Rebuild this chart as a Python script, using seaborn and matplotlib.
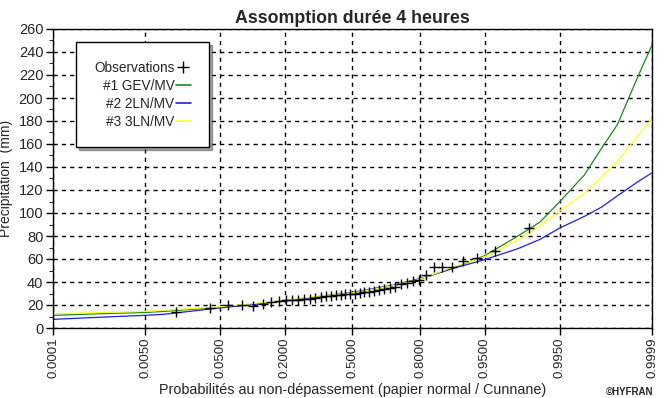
import numpy as np
import pandas as pd
import matplotlib
matplotlib.use("Agg")
import matplotlib.pyplot as plt
import seaborn as sns
from statistics import NormalDist
from matplotlib.ticker import FixedLocator, MultipleLocator
from matplotlib.lines import Line2D

# ---- data ----
curve_p = [0.0001, 0.001, 0.005, 0.01, 0.05, 0.1, 0.2, 0.3, 0.5, 0.7, 0.8,
           0.9, 0.95, 0.98, 0.99, 0.995, 0.998, 0.999, 0.9995, 0.9998, 0.9999]
gev = [11, 12.5, 13.5, 14.5, 18, 20.5, 23.5, 26.5, 30.5, 37, 42.5,
       53, 63, 80, 92, 110, 133, 156, 177, 218, 246]
ln2 = [7.5, 9.5, 11, 12, 17.5, 20, 23.5, 26.5, 31, 37.5, 43,
       52.5, 59.5, 69, 77, 87, 97, 105, 115, 127, 135]
ln3 = [12.5, 13.5, 14.5, 15.5, 18.5, 21, 24, 27, 30.5, 37, 42.5,
       54, 62, 76.5, 89, 102, 117, 131, 145, 167, 182]

obs_p = [0.0142, 0.0379, 0.0616, 0.0853, 0.1090, 0.1327, 0.1564, 0.1801,
         0.2038, 0.2275, 0.2512, 0.2749, 0.2986, 0.3223, 0.3460, 0.3697,
         0.3934, 0.4171, 0.4408, 0.4645, 0.4882, 0.5118, 0.5355, 0.5592,
         0.5829, 0.6066, 0.6303, 0.6540, 0.6777, 0.7014, 0.7251, 0.7488,
         0.7725, 0.7962, 0.8199, 0.8436, 0.8673, 0.8910, 0.9147, 0.9384,
         0.9621, 0.9858]
obs_v = [14, 17, 20, 20, 19.5, 21, 22.5, 23.5, 24, 24, 24.5, 25, 25.5, 26,
         27, 27.5, 28, 28.5, 29, 29.5, 30, 30, 30.5, 31, 31.5, 32.5, 33, 34,
         35, 36, 38, 39, 41, 42, 46, 53, 53, 53, 58.5, 60.5, 67, 87]

xticks = [0.0001, 0.0050, 0.0500, 0.2000, 0.5000, 0.8000, 0.9500, 0.9950, 0.9999]
xtick_labels = ["0.0001", "0.0050", "0.0500", "0.2000", "0.5000", "0.8000",
                "0.9500", "0.9950", "0.9999"]
series_names = ["#1 GEV/MV", "#2 2LN/MV", "#3 3LN/MV"]
series_colors = ["#1a8a1a", "#2020e0", "#ffff20"]

# ---- frames ----
curves = pd.DataFrame({
    "p": curve_p * 3,
    "v": gev + ln2 + ln3,
    "model": sum([[n] * len(curve_p) for n in series_names], []),
})
obs = pd.DataFrame({"p": obs_p, "v": obs_v})

sns.set_style("white")
plt.rcParams["font.family"] = ["Liberation Sans", "DejaVu Sans"]

fig = plt.figure(figsize=(6.66, 3.98), dpi=100)
ax = fig.add_axes([53 / 666, 1 - 328 / 398, (652 - 53) / 666, (328 - 29) / 398])

nd = NormalDist()
_ppf = np.vectorize(lambda q: nd.inv_cdf(min(max(float(q), 1e-12), 1 - 1e-12)),
                    otypes=[float])
_cdf = np.vectorize(lambda z: nd.cdf(float(z)), otypes=[float])


def fwd(x):
    return _ppf(np.asarray(x, dtype=float))


def inv(z):
    return _cdf(np.asarray(z, dtype=float))


ax.set_xscale("function", functions=(fwd, inv))

sns.lineplot(data=curves, x="p", y="v", hue="model", palette=series_colors,
             hue_order=series_names, linewidth=0.9, ax=ax, legend=False)
sns.scatterplot(data=obs, x="p", y="v", marker="+", color="black", s=60,
                linewidth=1.0, ax=ax, zorder=5, legend=False)

ax.set_xlim(0.0001, 0.9999)
ax.set_ylim(0, 260)
ax.xaxis.set_major_locator(FixedLocator(xticks))
ax.xaxis.set_minor_locator(FixedLocator([]))
ax.set_xticklabels(xtick_labels, rotation=90, fontsize=9.5)
ax.yaxis.set_major_locator(MultipleLocator(20))
ax.yaxis.set_minor_locator(MultipleLocator(10))
ax.tick_params(axis="y", labelsize=10.5, length=5, width=1, color="black",
               direction="out", left=True, pad=2)
ax.tick_params(axis="y", which="minor", length=3, left=True, color="black")
ax.tick_params(axis="x", length=5, width=1, color="black", direction="out",
               bottom=True, pad=2)

ax.grid(True, which="major", color="black", linestyle=(0, (3, 3)), linewidth=1.0)
for s in ax.spines.values():
    s.set_color("black")
    s.set_linewidth(1.0)

ax.set_xlabel("Probabilités au non-dépassement (papier normal / Cunnane)",
              fontsize=10.4, labelpad=3)
ax.set_ylabel("Précipitation  (mm)", fontsize=10, labelpad=4)
ax.set_title("Assomption durée 4 heures", fontsize=12.8, fontweight="bold", pad=4)

# legend
handles = [Line2D([], [], marker="+", color="black", linestyle="none", markersize=8)]
handles += [Line2D([], [], color=c, linewidth=1.2) for c in series_colors]
labels = ["Observations"] + series_names
leg = ax.legend(handles, labels, loc="upper left", bbox_to_anchor=(0.038, 0.955),
                markerfirst=False, frameon=True, fancybox=False, shadow=True,
                fontsize=9.8, handlelength=1.1, handletextpad=0.1,
                borderpad=1.35, labelspacing=0.3, borderaxespad=0)
leg.get_frame().set_edgecolor("black")
leg.get_frame().set_linewidth(1.0)
for t in leg.get_texts():
    t.set_ha("right")
leg._legend_box.align = "right"

fig.text(606 / 666, 1 - 392 / 398, "©HYFRAN", fontsize=7, fontweight="bold",
         ha="left", va="center")

fig.savefig("out.png", dpi=100, facecolor="white")
